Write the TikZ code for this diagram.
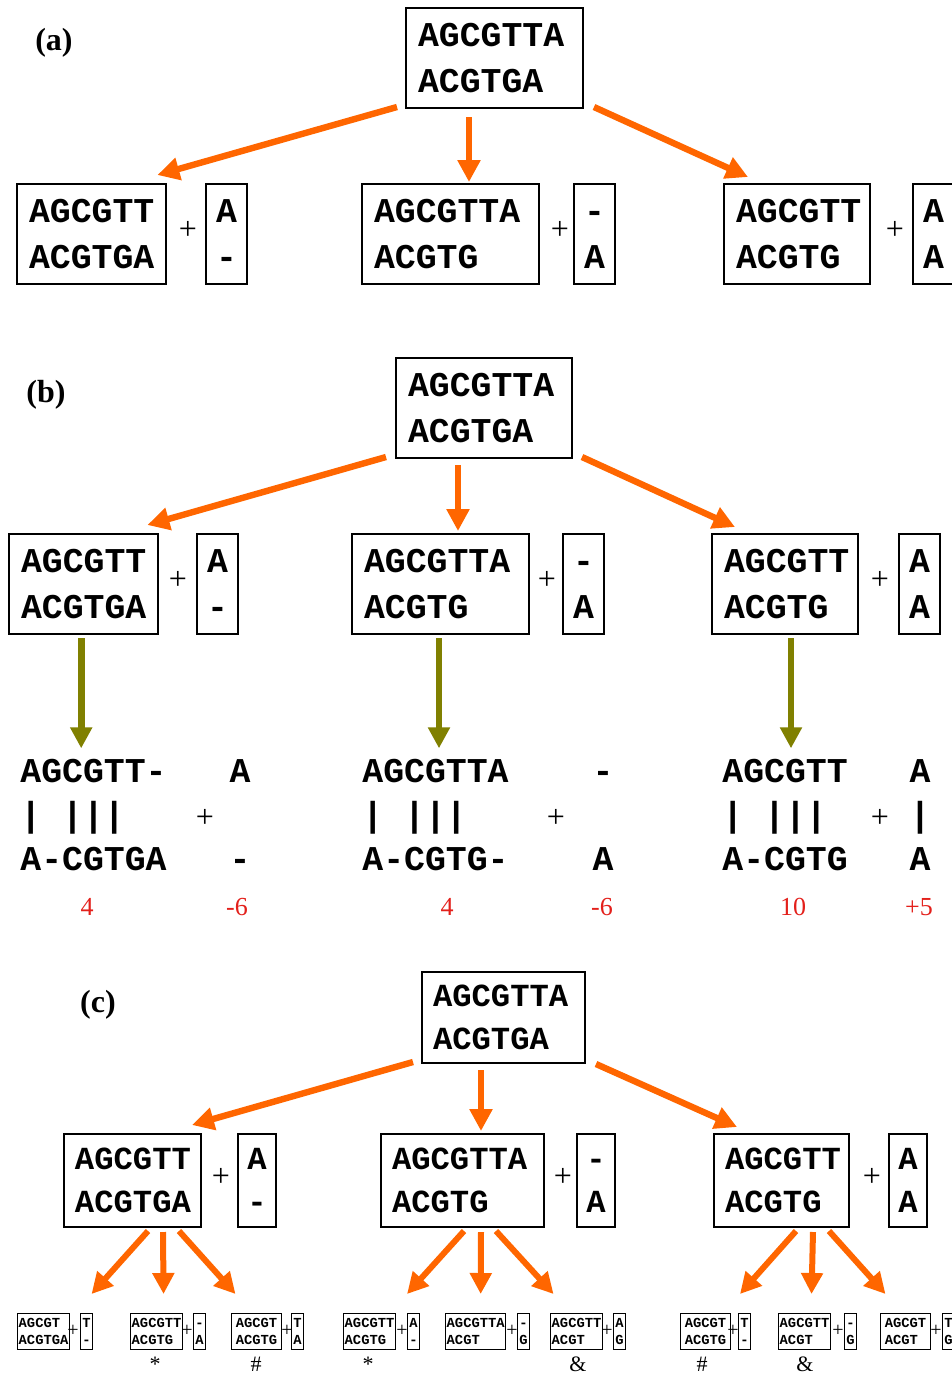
\documentclass[tikz,border=0pt]{standalone}
\usepackage{fontspec}
\setmainfont{Liberation Serif}
\newfontfamily\seqfont{Liberation Mono}
\usetikzlibrary{arrows.meta, positioning, calc}

\definecolor{treeorange}{HTML}{FF6600}
\definecolor{alnolive}{HTML}{808000}
\definecolor{scorered}{HTML}{E3201B}

\newcommand{\seqA}{\seqfont\bfseries\fontsize{17.4}{22.75}\selectfont}
\newcommand{\seqC}{\seqfont\bfseries\fontsize{16.1}{21.25}\selectfont}
\newcommand{\seqT}{\seqfont\bfseries\fontsize{6.9}{8.5}\selectfont}

\begin{document}
\begin{tikzpicture}[
  x=0.5pt, y=-0.5pt,
  seq/.style={
    draw,
    line width=1pt,
    anchor=north west,
    align=left,
    inner xsep=6pt,
    inner ysep=0pt,
    text width=#1,
    minimum height=50pt,
    font=\seqA
  },
  gap/.style={
    draw,
    line width=1pt,
    anchor=north west,
    align=center,
    inner sep=0pt,
    minimum width=20.5pt,
    minimum height=50pt,
    font=\seqA
  },
  seqc/.style={
    seq=#1,
    inner xsep=5.5pt,
    minimum height=46.5pt,
    font=\seqC
  },
  gapc/.style={
    gap,
    minimum width=19pt,
    minimum height=46.5pt,
    font=\seqC
  },
  tiny/.style={
    draw,
    line width=0.5pt,
    anchor=north west,
    align=left,
    inner xsep=0.6pt,
    inner ysep=0pt,
    minimum width=25pt,
    minimum height=18pt,
    font=\seqT
  },
  tinygap/.style={
    tiny,
    align=center,
    inner xsep=0pt,
    minimum width=6pt
  },
  aln/.style={anchor=base west, inner sep=0pt, font=\seqA},
  alnc/.style={anchor=base, inner sep=0pt, font=\seqA},
  plus/.style={inner sep=0pt, font=\fontsize{16}{16}\selectfont},
  tinyplus/.style={inner sep=0pt, font=\fontsize{10}{10}\selectfont},
  note/.style={anchor=base, inner sep=0pt, font=\fontsize{11}{11}\selectfont},
  score/.style={anchor=base, inner sep=0pt, text=scorered, font=\fontsize{13}{13}\selectfont},
  panel/.style={inner sep=0pt, font=\bfseries\fontsize{16}{16}\selectfont},
  arrow/.style={treeorange, line width=3.2pt, -{Triangle[length=11pt,width=11pt]}},
  small arrow/.style={treeorange, line width=3pt, -{Triangle[length=10.5pt,width=10.5pt]}},
  down/.style={alnolive, line width=3.4pt, -{Triangle[length=10.5pt,width=10.5pt]}, shorten >=5pt}
]
\useasboundingbox (0,0) rectangle (952,1373);

% ============================================================
% (a)
% ============================================================

\node[panel] (la) at (54,43) {(a)};

\node[seq=76.5pt] (a0) at (405,7) {AGCGTTA\\ACGTGA};

\node[seq=62.7pt] (a1) at (16,183) {AGCGTT\\ACGTGA};
\node[plus] (a1p) at (188,230) {+};
\node[gap] (a1g) at (205,183) {A\\-};

\node[seq=76.5pt] (a2) at (361,183) {AGCGTTA\\ACGTG};
\node[plus] (a2p) at (560,230) {+};
\node[gap] (a2g) at (573,183) {-\vphantom{A}\\A};

\node[seq=61pt] (a3) at (723,183) {AGCGTT\\ACGTG};
\node[plus] (a3p) at (895,230) {+};
\node[gap] (a3g) at (912,183) {A\\A};

\draw[arrow] ($(a0.south west)+(-8,-2)$) -- ($(a1.north east)+(-10,-8)$);
\draw[arrow] ($(a0.south)+(-25.5,8)$) -- ($(a2.north)+(18.5,-1)$);
\draw[arrow] ($(a0.south east)+(10,-2)$) -- ($(a3.north west)+(25,-6)$);

% ============================================================
% (b)
% ============================================================

\node[panel] (lb) at (46,395) {(b)};

\node[seq=76pt] (b0) at (395,357) {AGCGTTA\\ACGTGA};

\node[seq=62.7pt] (b1) at (8,533) {AGCGTT\\ACGTGA};
\node[plus] (b1p) at (178,580) {+};
\node[gap] (b1g) at (196,533) {A\\-};

\node[seq=76.5pt] (b2) at (351,533) {AGCGTTA\\ACGTG};
\node[plus] (b2p) at (547,580) {+};
\node[gap] (b2g) at (562,533) {-\vphantom{A}\\A};

\node[seq=61pt] (b3) at (711,533) {AGCGTT\\ACGTG};
\node[plus] (b3p) at (880,580) {+};
\node[gap] (b3g) at (898,533) {A\\A};

\draw[arrow] ($(b0.south west)+(-9,-2)$) -- ($(b1.north east)+(-12,-8)$);
\draw[arrow] ($(b0.south)+(-26,6)$) -- ($(b2.north)+(17.5,-2)$);
\draw[arrow] ($(b0.south east)+(9,-2)$) -- ($(b3.north west)+(24,-6)$);

% alignments
\node[aln] (b1t) at (20,782) {AGCGTT-};
\node[aln] (b1m) at (20,826) {|\ |||};
\node[aln] (b1b) at (20,870) {A-CGTGA};
\node[alnc] (b1ga) at (240,782) {A};
\node[plus] (b1ap) at (205,818) {+};
\node[alnc] (b1gb) at (240,870) {-};
\node[score] (b1s) at (87,915) {4};
\node[score] (b1gs) at (237,915) {-6};

\node[aln] (b2t) at (362,782) {AGCGTTA};
\node[aln] (b2m) at (362,826) {|\ |||};
\node[aln] (b2b) at (362,870) {A-CGTG-};
\node[alnc] (b2ga) at (603,782) {-};
\node[plus] (b2ap) at (556,818) {+};
\node[alnc] (b2gb) at (603,870) {A};
\node[score] (b2s) at (447,915) {4};
\node[score] (b2gs) at (602,915) {-6};

\node[aln] (b3t) at (722,782) {AGCGTT};
\node[aln] (b3m) at (722,826) {|\ |||};
\node[aln] (b3b) at (722,870) {A-CGTG};
\node[alnc] (b3ga) at (920,782) {A};
\node[plus] (b3ap) at (880,818) {+};
\node[alnc] (b3gm) at (920,826) {|};
\node[alnc] (b3gb) at (920,870) {A};
\node[score] (b3s) at (793,915) {10};
\node[score] (b3gs) at (919,915) {+5};

\coordinate (b1d) at ($(b1.south)+(-2.5,3)$);
\coordinate (b2d) at ($(b2.south)+(-1.5,3)$);
\coordinate (b3d) at ($(b3.south)+(6,3)$);
\draw[down] (b1d) -- (b1d |- b1t.north);
\draw[down] (b2d) -- (b2d |- b2t.north);
\draw[down] (b3d) -- (b3d |- b3t.north);

% ============================================================
% (c)
% ============================================================

\node[panel] (lc) at (98,1005) {(c)};

\node[seqc=70.5pt, minimum height=45.5pt] (c0) at (421,971) {AGCGTTA\\ACGTGA};

\node[seqc=57.5pt] (c1) at (63,1133) {AGCGTT\\ACGTGA};
\node[plus] (c1p) at (221,1177) {+};
\node[gapc] (c1g) at (237,1133) {A\\-};

\node[seqc=70.5pt] (c2) at (380,1133) {AGCGTTA\\ACGTG};
\node[plus] (c2p) at (563,1177) {+};
\node[gapc] (c2g) at (576,1133) {-\vphantom{A}\\A};

\node[seqc=56.5pt] (c3) at (713,1133) {AGCGTT\\ACGTG};
\node[plus] (c3p) at (872,1177) {+};
\node[gapc] (c3g) at (888,1133) {A\\A};

\draw[arrow] ($(c0.south west)+(-8,-2)$) -- ($(c1.north east)+(-10,-8)$);
\draw[arrow] ($(c0.south)+(-22.5,6)$) -- ($(c2.north)+(18.5,-2)$);
\draw[arrow] ($(c0.south east)+(10,0)$) -- ($(c3.north west)+(24,-6)$);

% children of (c)
\node[tiny] (t1) at (17,1313) {AGCGT\\ACGTGA};
\node[tinyplus] (t1p) at (73,1331) {+};
\node[tinygap] (t1g) at (80,1313) {T\\-};

\node[tiny] (t2) at (130,1313) {AGCGTT\\ACGTG};
\node[tinyplus] (t2p) at (187,1331) {+};
\node[tinygap] (t2g) at (193,1313) {-\vphantom{A}\\A};
\node[note] (t2m) at (155,1371) {*};

\node[tiny] (t3) at (231,1313) {AGCGT\\ACGTG};
\node[tinyplus] (t3p) at (287,1331) {+};
\node[tinygap] (t3g) at (291,1313) {T\\A};
\node[note] (t3m) at (256,1371) {\#};

\node[tiny] (t4) at (343,1313) {AGCGTT\\ACGTG};
\node[tinyplus] (t4p) at (402,1331) {+};
\node[tinygap] (t4g) at (407,1313) {A\\-};
\node[note] (t4m) at (368,1371) {*};

\node[tiny] (t5) at (445,1313) {AGCGTTA\\ACGT};
\node[tinyplus] (t5p) at (512,1331) {+};
\node[tinygap] (t5g) at (517,1313) {-\vphantom{A}\\G};

\node[tiny] (t6) at (550,1313) {AGCGTT\\ACGT};
\node[tinyplus] (t6p) at (607,1331) {+};
\node[tinygap] (t6g) at (613,1313) {A\\G};
\node[note] (t6m) at (578,1371) {\&};

\node[tiny] (t7) at (680,1313) {AGCGT\\ACGTG};
\node[tinyplus] (t7p) at (733,1331) {+};
\node[tinygap] (t7g) at (738,1313) {T\\-};
\node[note] (t7m) at (702,1371) {\#};

\node[tiny] (t8) at (778,1313) {AGCGTT\\ACGT};
\node[tinyplus] (t8p) at (838,1331) {+};
\node[tinygap] (t8g) at (844,1313) {-\vphantom{A}\\G};
\node[note] (t8m) at (805,1371) {\&};

\node[tiny] (t9) at (880,1313) {AGCGT\\ACGT};
\node[tinyplus] (t9p) at (936,1331) {+};
\node[tinygap] (t9g) at (942,1313) {T\\G};

\draw[small arrow] ($(c1.south)+(15.5,3)$) -- ($(t1.north)+(48,-19)$);
\draw[small arrow] ($(c1.south)+(30.5,4)$) -- ($(t2.north)+(7,-19)$);
\draw[small arrow] ($(c1.south)+(46.5,3)$) -- ($(t3.north)+(-21,-19)$);

\draw[small arrow] ($(c2.south)+(1.5,3)$) -- ($(t4.north)+(37.5,-19)$);
\draw[small arrow] ($(c2.south)+(18.5,4)$) -- ($(t5.north)+(5,-19)$);
\draw[small arrow] ($(c2.south)+(33.5,3)$) -- ($(t6.north)+(-23,-19)$);

\draw[small arrow] ($(c3.south)+(14.5,3)$) -- ($(t7.north)+(34.5,-19)$);
\draw[small arrow] ($(c3.south)+(31.5,4)$) -- ($(t8.north)+(7,-19)$);
\draw[small arrow] ($(c3.south)+(47.5,3)$) -- ($(t9.north)+(-20,-19)$);

\end{tikzpicture}
\end{document}
